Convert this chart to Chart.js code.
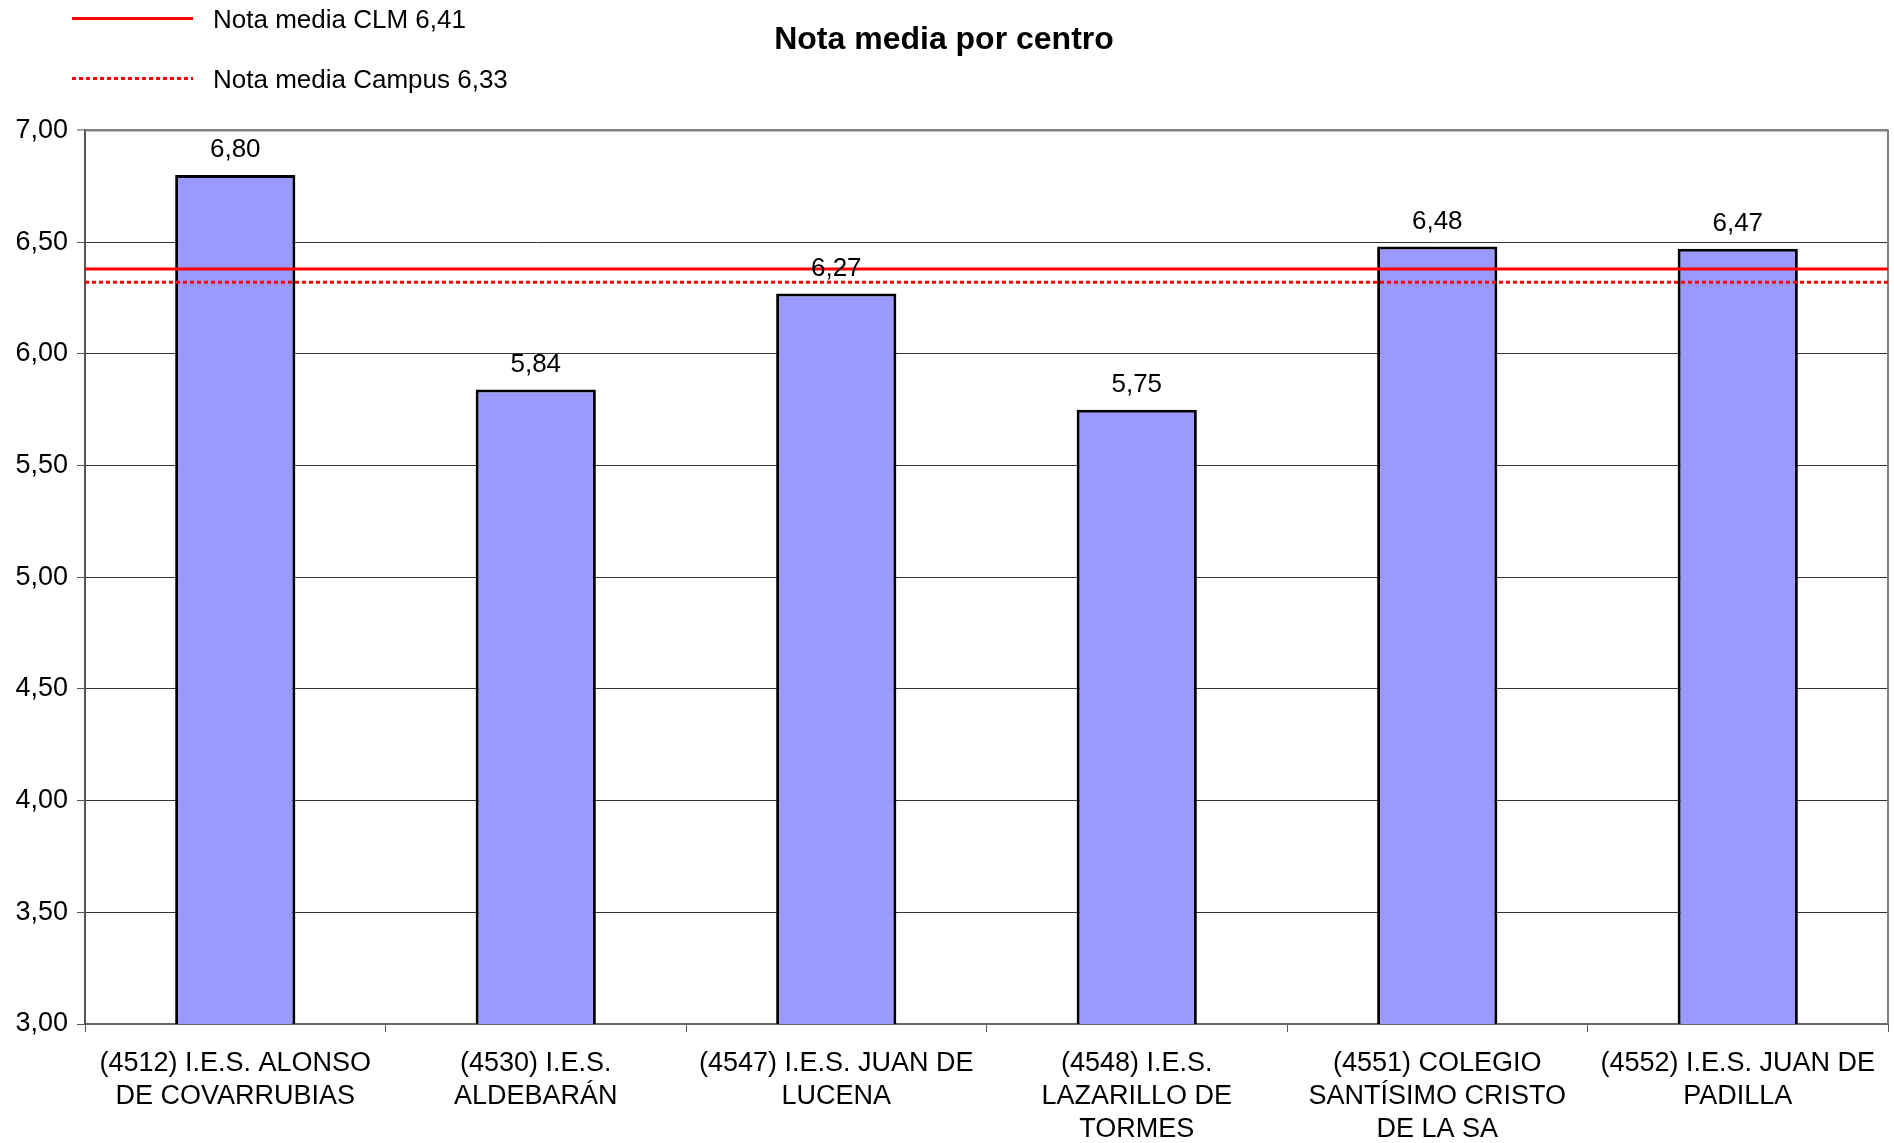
<!DOCTYPE html>
<html>
<head>
<meta charset="utf-8">
<script src="https://cdn.jsdelivr.net/npm/chart.js@4/dist/chart.umd.min.js"></script>
<style>
  body { margin: 0; background: #fff; }
  #wrap { position: relative; width: 1894px; height: 1143px; }
  .leg-line { position: absolute; left: 72px; width: 121px; height: 3px; }
  .leg-text { position: absolute; left: 213px; font: 26px 'Liberation Sans', Arial, sans-serif; color: #000; line-height: 30px; }
</style>
</head>
<body>
<div id="wrap">
  <canvas id="chart"></canvas>
  <div class="leg-line" style="top:17px;background:#ff0000"></div>
  <div class="leg-text" style="top:4px">Nota media CLM 6,41</div>
  <div class="leg-line" style="top:77px;background:repeating-linear-gradient(to right,#ff0000 0 4px,transparent 4px 7px)"></div>
  <div class="leg-text" style="top:64px">Nota media Campus 6,33</div>
</div>
<script>
const FONT = "'Liberation Sans', Arial, sans-serif";

// ── Data ───────────────────────────────────────────────────────────────────
const centros = [
  ['(4512) I.E.S. ALONSO', 'DE COVARRUBIAS'],
  ['(4530) I.E.S.', 'ALDEBARÁN'],
  ['(4547) I.E.S. JUAN DE', 'LUCENA'],
  ['(4548) I.E.S.', 'LAZARILLO DE', 'TORMES'],
  ['(4551) COLEGIO', 'SANTÍSIMO CRISTO', 'DE LA SA'],
  ['(4552) I.E.S. JUAN DE', 'PADILLA'],
];
const notas = [6.80, 5.84, 6.27, 5.75, 6.48, 6.47];

// reference lines (as drawn in the picture)
const mediaCLM    = [6.38, 6.38];
const mediaCampus = [6.32, 6.32];

const yTicks = { min: 3, max: 7, step: 0.5 };

const fmt = v => v.toFixed(2).replace('.', ',');

// ── Plugins ────────────────────────────────────────────────────────────────
const plotBorder = {
  id: 'plotBorder',
  beforeDatasetsDraw(chart) {
    const { ctx, chartArea: a } = chart;
    ctx.save();
    ctx.strokeStyle = '#808080';
    ctx.lineWidth = 2;
    ctx.beginPath();
    ctx.moveTo(a.left, a.top);
    ctx.lineTo(a.right, a.top);
    ctx.lineTo(a.right, a.bottom);
    ctx.stroke();
    ctx.restore();
  }
};

const valueLabels = {
  id: 'valueLabels',
  afterDatasetsDraw(chart) {
    const { ctx } = chart;
    const idx = chart.data.datasets.findIndex(d => d.type === 'bar');
    const meta = chart.getDatasetMeta(idx);
    ctx.save();
    ctx.font = `26px ${FONT}`;
    ctx.fillStyle = '#000';
    ctx.textAlign = 'center';
    ctx.textBaseline = 'middle';
    meta.data.forEach((bar, i) => {
      ctx.fillText(fmt(notas[i]), bar.x, bar.y - 25);
    });
    ctx.restore();
  }
};

// ── Chart ──────────────────────────────────────────────────────────────────
new Chart(document.getElementById('chart'), {
  type: 'bar',
  data: {
    labels: centros,
    datasets: [
      {
        type: 'line', label: 'Nota media CLM 6,41', xAxisID: 'xLine', order: 1,
        data: mediaCLM.map((y, i) => ({ x: i, y })),
        borderColor: '#ff0000', borderWidth: 3, pointRadius: 0, fill: false,
      },
      {
        type: 'line', label: 'Nota media Campus 6,33', xAxisID: 'xLine', order: 1,
        data: mediaCampus.map((y, i) => ({ x: i, y })),
        borderColor: '#ff0000', borderWidth: 3, borderDash: [4, 3], pointRadius: 0, fill: false,
      },
      {
        type: 'bar', label: 'Nota media', xAxisID: 'x', order: 3,
        data: notas,
        backgroundColor: '#9999ff', borderColor: '#000', borderWidth: 3,
        barPercentage: 0.4, categoryPercentage: 1, grouped: false,
      },
    ]
  },
  options: {
    responsive: true,
    maintainAspectRatio: false,
    animation: false,
    layout: { padding: { right: 6 } },
    plugins: {
      legend: { display: false },
      tooltip: { enabled: false },
      title: {
        display: true,
        text: 'Nota media por centro',
        color: '#000',
        font: { family: FONT, size: 32, weight: 'bold' },
        padding: { top: 21, bottom: 71 },
      },
    },
    scales: {
      x: {
        type: 'category',
        grid: { drawOnChartArea: false, offset: true, tickLength: 8, tickColor: '#555' },
        border: { color: '#666', width: 2 },
        ticks: { color: '#000', font: { family: FONT, size: 27, lineHeight: 1.222 }, padding: 15, maxRotation: 0, autoSkip: false },
        afterFit: s => { s.height = 119; },
      },
      xLine: { type: 'linear', display: false, offset: false, min: 0, max: 1 },
      y: {
        min: yTicks.min, max: yTicks.max,
        ticks: { stepSize: yTicks.step, color: '#000', font: { family: FONT, size: 27 }, padding: 9, callback: v => fmt(v) },
        grid: {
          color: c => c.tick && c.tick.value === yTicks.max ? '#808080' : '#333',
          lineWidth: c => c.tick && c.tick.value === yTicks.max ? 2 : 1,
          tickLength: 8, tickColor: '#555', tickWidth: 1,
        },
        border: { color: '#555', width: 2 },
        afterFit: s => { s.width = 85; },
      },
    }
  },
  plugins: [plotBorder, valueLabels]
});
</script>
</body>
</html>
